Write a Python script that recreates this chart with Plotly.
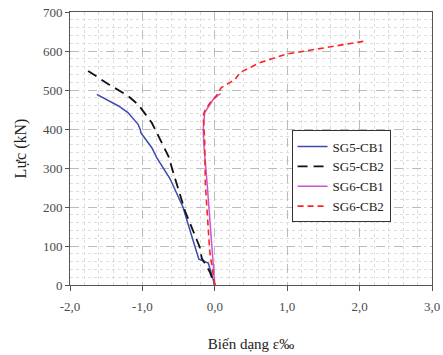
import plotly.graph_objects as go

# SG5-CB1 (blue solid)
sg5cb1_x = [-1.63, -1.33, -1.20, -1.06, -1.03, -1.02, -0.87, -0.80, -0.62, -0.44, -0.30, -0.22, -0.09, 0.0]
sg5cb1_y = [489, 459, 442, 412, 399, 390, 352, 326, 273, 200, 114, 66, 56, 0]
# SG5-CB2 (black dashed)
sg5cb2_x = [-1.75, -1.47, -1.20, -1.06, -0.87, -0.64, -0.57, -0.41, -0.21, -0.18, -0.07, 0.0]
sg5cb2_y = [549, 515, 485, 463, 416, 330, 286, 189, 98, 69, 34, 0]
# SG6-CB1 (magenta solid)
sg6cb1_x = [0.0, -0.10, -0.11, -0.15, -0.16, -0.14, -0.02, 0.08]
sg6cb1_y = [0, 257, 270, 356, 399, 442, 476, 491]
# SG6-CB2 (red dashed)
sg6cb2_x = [0.0, -0.07, -0.13, -0.14, -0.16, -0.14, -0.07, 0.02, 0.09, 0.28, 0.35, 0.62, 0.99, 1.54, 2.06]
sg6cb2_y = [0, 86, 257, 372, 433, 446, 466, 485, 506, 527, 545, 570, 592, 609, 625]

x_ticks = [-2, -1, 0, 1, 2, 3]
x_tick_text = ["-2,0", "-1,0", "0,0", "1,0", "2,0", "3,0"]
y_ticks = [0, 100, 200, 300, 400, 500, 600, 700]

serif = "Liberation Serif, Times New Roman, serif"

fig = go.Figure()
fig.add_trace(go.Scatter(x=sg5cb1_x, y=sg5cb1_y, mode="lines", name="SG5-CB1",
                         line=dict(color="#3F4AAE", width=1.5)))
fig.add_trace(go.Scatter(x=sg5cb2_x, y=sg5cb2_y, mode="lines", name="SG5-CB2",
                         line=dict(color="#111111", width=1.8, dash="10px,6px")))
fig.add_trace(go.Scatter(x=sg6cb1_x, y=sg6cb1_y, mode="lines", name="SG6-CB1",
                         line=dict(color="#CC55CC", width=1.5)))
fig.add_trace(go.Scatter(x=sg6cb2_x, y=sg6cb2_y, mode="lines", name="SG6-CB2",
                         line=dict(color="#FF2222", width=1.6, dash="6px,4px")))

fig.update_layout(
    width=443, height=355,
    margin=dict(l=70, r=11, t=12, b=70),
    paper_bgcolor="white", plot_bgcolor="white",
    font=dict(family=serif, size=13, color="#4A4A4A"),
    showlegend=True,
    legend=dict(x=0.612, y=0.566, xanchor="left", yanchor="top",
                bgcolor="white", bordercolor="#333333", borderwidth=1,
                font=dict(family=serif, size=13, color="#222222"),
                tracegroupgap=0, itemwidth=30),
    xaxis=dict(range=[-2, 3], tickvals=x_ticks, ticktext=x_tick_text,
               ticks="outside", ticklen=5, tickcolor="#555555", ticklabelstandoff=4,
               showline=True, linecolor="#555555", linewidth=1, mirror=True,
               showgrid=True, gridcolor="#BBBBBB", griddash="dash", gridwidth=1,
               minor=dict(dtick=0.2, showgrid=True, gridcolor="#DDDDDD", griddash="dot"),
               zeroline=False, automargin=False,
               title=dict(text="Biến dạng ε‰", font=dict(family=serif, size=15, color="#222222"),
                          standoff=25)),
    yaxis=dict(range=[0, 700], tickvals=y_ticks,
               ticks="outside", ticklen=4, tickcolor="#555555",
               showline=True, linecolor="#555555", linewidth=1, mirror=True,
               showgrid=True, gridcolor="#BBBBBB", griddash="dash", gridwidth=1,
               minor=dict(dtick=20, showgrid=True, gridcolor="#DDDDDD", griddash="dot"),
               zeroline=False, automargin=False,
               title=dict(text="Lực (kN)", font=dict(family=serif, size=16, color="#222222"),
                          standoff=12)),
)

fig.write_html("out.html")
